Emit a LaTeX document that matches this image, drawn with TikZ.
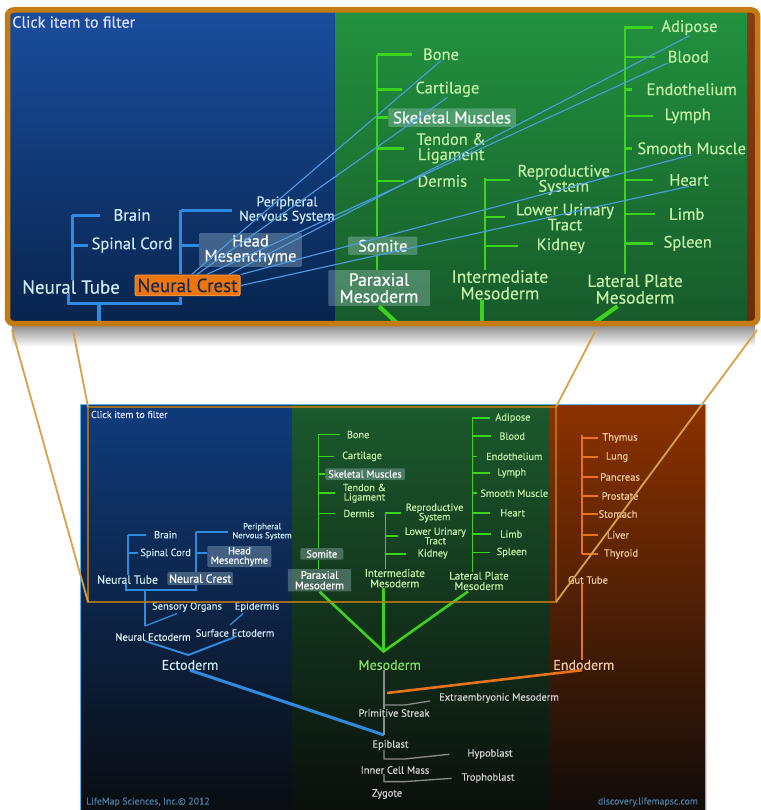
\documentclass[tikz,border=0pt]{standalone}
\usepackage{fontspec}
\setmainfont{PT Sans}[FakeBold=0.4]

\definecolor{treeblue}{HTML}{2F8BE0}
\definecolor{treegreen}{HTML}{3CD21E}
\definecolor{treeorange}{HTML}{E8741A}
\definecolor{treegrey}{HTML}{8C8C8C}
\definecolor{txtblue}{HTML}{CDEBF7}
\definecolor{txtgreen}{HTML}{C4F0A8}
\definecolor{txtorange}{HTML}{F2CBA4}
\definecolor{txtgrey}{HTML}{D2D2D2}
\definecolor{mesoink}{HTML}{86E05E}
\definecolor{crestfill}{HTML}{EC760E}
\definecolor{crestink}{HTML}{17294F}
\definecolor{rimorange}{HTML}{C47C12}
\definecolor{zoomgold}{HTML}{D6A245}
\definecolor{rimcyan}{HTML}{5CB8E8}
\definecolor{footink}{HTML}{4A7C9E}

\newcommand\lwf{1}
\newcommand\fhint{\fontsize{10}{10}\selectfont}
\newcommand\ftiny{\fontsize{8.7}{7.4}\selectfont}
\newcommand\fsmall{\fontsize{10.3}{9.4}\selectfont}
\newcommand\flow{\fontsize{10.5}{10}\selectfont}
\newcommand\ffoot{\fontsize{9.8}{10}\selectfont}
\newcommand\fmid{\fontsize{11}{10.4}\selectfont}
\newcommand\fmidx{\fontsize{11.8}{11}\selectfont}
\newcommand\fbig{\fontsize{14}{13}\selectfont}

\tikzset{
  blbl/.style={text=txtblue, font=\fsmall, inner sep=0pt, align=center},
  glbl/.style={text=txtgreen, font=\fsmall, inner sep=0pt, align=center},
  olbl/.style={text=txtorange, font=\flow, inner sep=0pt, align=center},
  ylbl/.style={text=txtgrey, font=\flow, inner sep=0pt, align=center},
  box/.style={fill=txtblue, fill opacity=0.28, text opacity=1, text=white,
    rounded corners=1pt, inner sep=0pt, align=center},
  crestbox/.style={box},
  bline/.style={draw=treeblue, line width=\lwf*1.9pt},
  bthin/.style={draw=treeblue, line width=\lwf*1.3pt},
  bthick/.style={draw=treeblue, line width=\lwf*3pt},
  gline/.style={draw=treegreen, line width=\lwf*1.6pt},
  gthick/.style={draw=treegreen, line width=\lwf*2.6pt},
  oline/.style={draw=treeorange, line width=\lwf*1.6pt},
  othick/.style={draw=treeorange, line width=\lwf*2.6pt},
  yline/.style={draw=treegrey, line width=\lwf*1.3pt},
  crestlink/.style={draw=treeblue!85!white, line width=1.1pt},
  zoomline/.style={draw=zoomgold, line width=1.8pt},
}

% part of the tree inside the magnified frame (lower panel coordinates)
\newcommand\lenstree{%
  \node[anchor=west, text=white!88!blue, font=\fhint, inner sep=0pt] (hint) at (90.8,414.5) {Click item to filter};

  % ectoderm
  \node[blbl] (brain) at (165.6,534.7) {Brain};
  \node[blbl] (spinal) at (165.6,553.4) {Spinal Cord};
  \node[blbl, font=\fmidx] (ntube) at (127.6,579.6) {Neural Tube};
  \node[blbl, font=\ftiny] (pns) at (262.1,531.6) {Peripheral\\Nervous System};
  \node[box, font=\fsmall, minimum width=64pt, minimum height=21pt] (headm) at (239.4,556.5) {Head\\Mesenchyme};
  \node[crestbox, font=\fmidx, minimum width=65.5pt, minimum height=13pt] (crest) at (200.2,578.6) {Neural Crest};

  \coordinate (ntspine) at (128.2,531);
  \coordinate (barL) at (125.7,589.6);
  \coordinate (barR) at (196,589.6);
  \coordinate (ntroot) at (145,589.6);
  \coordinate (necto) at (145,626);

  \draw[bline] (ntspine |- brain) -- (ntspine |- ntube.north);
  \draw[bline] (ntspine |- brain) -- ++(17.4,0);
  \draw[bline] (ntspine |- spinal) -- ++(10,0);
  \draw[bline] (barL) ++(0,-6) -- (barL) -- (barR) -- (barR |- crest.south);
  \draw[bline] (barR |- pns) -- (barR |- crest.north);
  \draw[bline] (barR |- pns) -- ++(32,0);
  \draw[bline] (barR |- spinal) -- (headm.west |- spinal);
  \draw[bline] (ntroot) -- (necto);

  % mesoderm
  \node[glbl] (bone) at (358.1,434.6) {Bone};
  \node[glbl] (cart) at (362.1,456.4) {Cartilage};
  \node[box, font=\fsmall, minimum width=79.5pt, minimum height=11.5pt] (skel) at (365,474) {Skeletal Muscles};
  \node[glbl] (tendon) at (364.4,493.2) {Tendon \&\\Ligament};
  \node[glbl] (dermis) at (358.9,513.5) {Dermis};
  \node[box, font=\fsmall, minimum width=43pt, minimum height=11.4pt] (somite) at (321.8,553.9) {Somite};
  \node[box, font=\fmid, minimum width=63.3pt, minimum height=22.4pt] (paraxial) at (319.5,580.2) {Paraxial\\Mesoderm};

  \node[glbl] (repro) at (434.6,512.9) {Reproductive\\System};
  \node[glbl] (urinary) at (435.3,536) {Lower Urinary\\Tract};
  \node[glbl] (kidney) at (432.7,554) {Kidney};
  \node[glbl, font=\fmid] (interm) at (394.8,578.3) {Intermediate\\Mesoderm};

  \node[glbl] (adipose) at (512.9,418) {Adipose};
  \node[glbl] (blood) at (512.2,436.1) {Blood};
  \node[glbl] (endoth) at (514.3,456.4) {Endothelium};
  \node[glbl] (lymph) at (511.8,473) {Lymph};
  \node[glbl] (smooth) at (514.3,493.2) {Smooth Muscle};
  \node[glbl] (heart) at (512.6,512.9) {Heart};
  \node[glbl] (limb) at (511.2,534.1) {Limb};
  \node[glbl] (spleen) at (511.8,552.4) {Spleen};
  \node[glbl, font=\fmid] (lateral) at (479,580.9) {Lateral Plate\\Mesoderm};

  \coordinate (pxspine) at (318.3,434.8);
  \coordinate (imspine) at (385.5,511.9);
  \coordinate (lpspine) at (472.6,417);
  \coordinate (mesoapex) at (383.5,651.5);
  \coordinate (lpfoot) at (468,591.5);

  \draw[gline] (pxspine) -- (pxspine |- somite.north);
  \draw[gline] (pxspine |- somite.south) -- (pxspine |- paraxial.north);
  \foreach \nd/\dl in {bone/21.5, cart/15.3, skel/7, tendon/16.7, dermis/16.7}
    \draw[gline] (pxspine |- \nd) -- ++(\dl,0);
  \draw[gline] (imspine) -- (imspine |- interm.north);
  \foreach \nd/\dl in {repro/15.6, urinary/12.5, kidney/20.8}
    \draw[gline] (imspine |- \nd) -- ++(\dl,0);
  \draw[gline] (lpspine) -- (lpspine |- lateral.north);
  \foreach \nd/\dl in {adipose/17.4, blood/18.8, endoth/4.4, lymph/17.8, smooth/4.4, heart/17.8, limb/18.8, spleen/17.8}
    \draw[gline] (lpspine |- \nd) -- ++(\dl,0);
  \draw[gthick] (paraxial.south) -- (mesoapex) -- (lpfoot);
  \draw[gthick] (interm.south -| mesoapex) -- (mesoapex);
}

% the rest of the tree, below and right of the frame
\newcommand\outertree{%
  \node[blbl, font=\flow] (sensory) at (187,607) {Sensory Organs};
  \node[blbl, font=\flow] (epiderm) at (257,607) {Epidermis};
  \node[blbl, font=\flow, text=white!90!cyan] (nectoderm) at (153,637) {Neural Ectoderm};
  \node[blbl, font=\flow] (sectoderm) at (235,633) {Surface Ectoderm};
  \node[blbl, font=\fbig] (ectoderm) at (190,665) {Ectoderm};

  \coordinate (sensend) at (177,613.5);
  \coordinate (epiend) at (243.3,613.3);
  \coordinate (surfend) at (230,625);
  \coordinate (ectoapex) at (188.3,655);
  \coordinate (epitop) at (384,735);

  \draw[bthin] (necto) -- (sensend);
  \draw[bthin] (epiend) -- (surfend);
  \draw[bline] (nectoderm.south -| necto) -- (ectoapex) -- (sectoderm.south);
  \draw[bthick] (ectoderm.south) -- (epitop);

  \node[glbl, font=\fbig, text=mesoink] (mesoderm) at (389.7,665) {Mesoderm};

  % endoderm
  \node[olbl] (thymus) at (620,438) {Thymus};
  \node[olbl] (lung) at (617,457) {Lung};
  \node[olbl] (pancreas) at (620,477) {Pancreas};
  \node[olbl] (prostate) at (620,496) {Prostate};
  \node[olbl] (stomach) at (618,514) {Stomach};
  \node[olbl] (liver) at (618,535) {Liver};
  \node[olbl] (thyroid) at (621,554) {Thyroid};
  \node[olbl] (guttube) at (588,580) {Gut Tube};
  \node[olbl, font=\fbig] (endoderm) at (583.8,665) {Endoderm};

  \coordinate (gutspine) at (582,435);
  \coordinate (endojoin) at (387,693);

  \draw[oline] (gutspine) -- (gutspine |- thyroid);
  \foreach \nd in {thymus,lung,pancreas,prostate,stomach,liver,thyroid}
    \draw[oline] (gutspine |- \nd) -- ++(16,0);
  \draw[oline] (guttube.south -| gutspine) -- (endoderm.north -| gutspine);
  \draw[othick] (endoderm.south -| gutspine) -- (endojoin);

  % early embryo
  \node[ylbl] (pstreak) at (394,713) {Primitive Streak};
  \node[ylbl] (extra) at (499,698) {Extraembryonic Mesoderm};
  \node[ylbl] (epiblast) at (390.5,745) {Epiblast};
  \node[ylbl] (icm) at (395,770) {Inner Cell Mass};
  \node[ylbl] (zygote) at (387,794) {Zygote};
  \node[ylbl] (hypo) at (490,754) {Hypoblast};
  \node[ylbl] (tropho) at (488,778) {Trophoblast};

  \coordinate (psfork) at (384,705);

  \draw[yline] (mesoderm.south -| epitop) -- (pstreak.north -| epitop);
  \draw[yline] (pstreak.south -| epitop) -- (epitop);
  \draw[yline] (psfork) -- ++(21,0) -- ++(25,-4);
  \draw[yline] (epiblast.south -| epitop) -- ++(0,9) -- ++(21,0) -- ++(44.3,-4.7);
  \draw[yline] (icm.south -| epitop) -- ++(0,7.6) -- ++(21,0) -- ++(46.7,-3.3);
}

\begin{document}
\begin{tikzpicture}[x=1pt,y=-1pt]
\useasboundingbox (0,0) rectangle (760,810);

% lower panel
\shade[top color={rgb,255:red,15;green,59;blue,124}, middle color={rgb,255:red,10;green,37;blue,80}, bottom color={rgb,255:red,10;green,13;blue,18}] (80,404) rectangle (292,810);
\shade[top color={rgb,255:red,28;green,90;blue,45}, middle color={rgb,255:red,16;green,57;blue,29}, bottom color={rgb,255:red,10;green,15;blue,12}] (292,404) rectangle (549,810);
\shade[top color={rgb,255:red,140;green,50;blue,0}, middle color={rgb,255:red,76;green,32;blue,8}, bottom color={rgb,255:red,17;green,12;blue,10}] (549,404) rectangle (706,810);
\draw[rimcyan, line width=1.2pt] (80.5,812) -- (80.5,404.5) -- (705.5,404.5) -- (705.5,812);

\lenstree
\outertree
\node[anchor=west, text=footink, font=\ffoot, inner sep=0pt] (credit) at (86,802) {LifeMap Sciences, Inc.\textcopyright{} 2012};
\node[anchor=east, text=footink, font=\ffoot, inner sep=0pt] (site) at (698,802) {discovery.lifemapsc.com};

% magnified area
\coordinate (lensNW) at (88,407);
\coordinate (lensSE) at (556,602);
\coordinate (lensNE) at (556,407);
\coordinate (lensSW) at (88,602);
\draw[rimorange, opacity=0.8, line width=1.4pt] (lensNW) rectangle (lensSE);

% shadow of the upper panel
\shade[top color=black!45, bottom color=white] (12,325) rectangle (755,347);

% zoom lines
\coordinate (zoomA) at (12,330);
\coordinate (zoomB) at (73,330);
\coordinate (zoomC) at (596,330);
\coordinate (zoomD) at (757,330);
\draw[zoomline] (zoomA) -- (lensSW);
\draw[zoomline] (zoomB) -- (lensNW);
\draw[zoomline] (zoomC) -- (lensNE);
\draw[zoomline] (zoomD) -- (lensSE);

% upper panel
\begin{scope}
  \clip[rounded corners=6pt] (7.5,10) rectangle (757.5,323.5);
  \shade[top color={rgb,255:red,27;green,79;blue,160}, bottom color={rgb,255:red,7;green,35;blue,75}] (0,0) rectangle (335,330);
  \shade[top color={rgb,255:red,34;green,148;blue,63}, bottom color={rgb,255:red,23;green,89;blue,42}] (335,0) rectangle (747.4,330);
  \shade[top color={rgb,255:red,140;green,58;blue,16}, bottom color={rgb,255:red,106;green,42;blue,10}] (747.4,0) rectangle (760,330);
  \begin{scope}[shift={(-133.74,-643.24)}, scale=1.605, transform shape,
      crestbox/.style={fill=crestfill, draw=crestfill!70!white, line width=0.8pt,
        text=crestink, rounded corners=2pt, inner sep=0pt}]
    \renewcommand\lwf{1.605}
    \lenstree
    \draw[crestlink] (crest.70) -- (bone.south);
    \draw[crestlink] (crest.50) -- (cart.south);
    \draw[crestlink] (crest.30) -- (blood.south west);
    \draw[crestlink] (crest.15) -- (adipose.south);
    \draw[crestlink] (crest.north east) -- (smooth.south);
    \draw[crestlink] (crest.east) -- (heart.south);
  \end{scope}
\end{scope}
\draw[rimorange, line width=5.5pt, rounded corners=6pt] (7.5,10) rectangle (757.5,323.5);

\end{tikzpicture}
\end{document}
